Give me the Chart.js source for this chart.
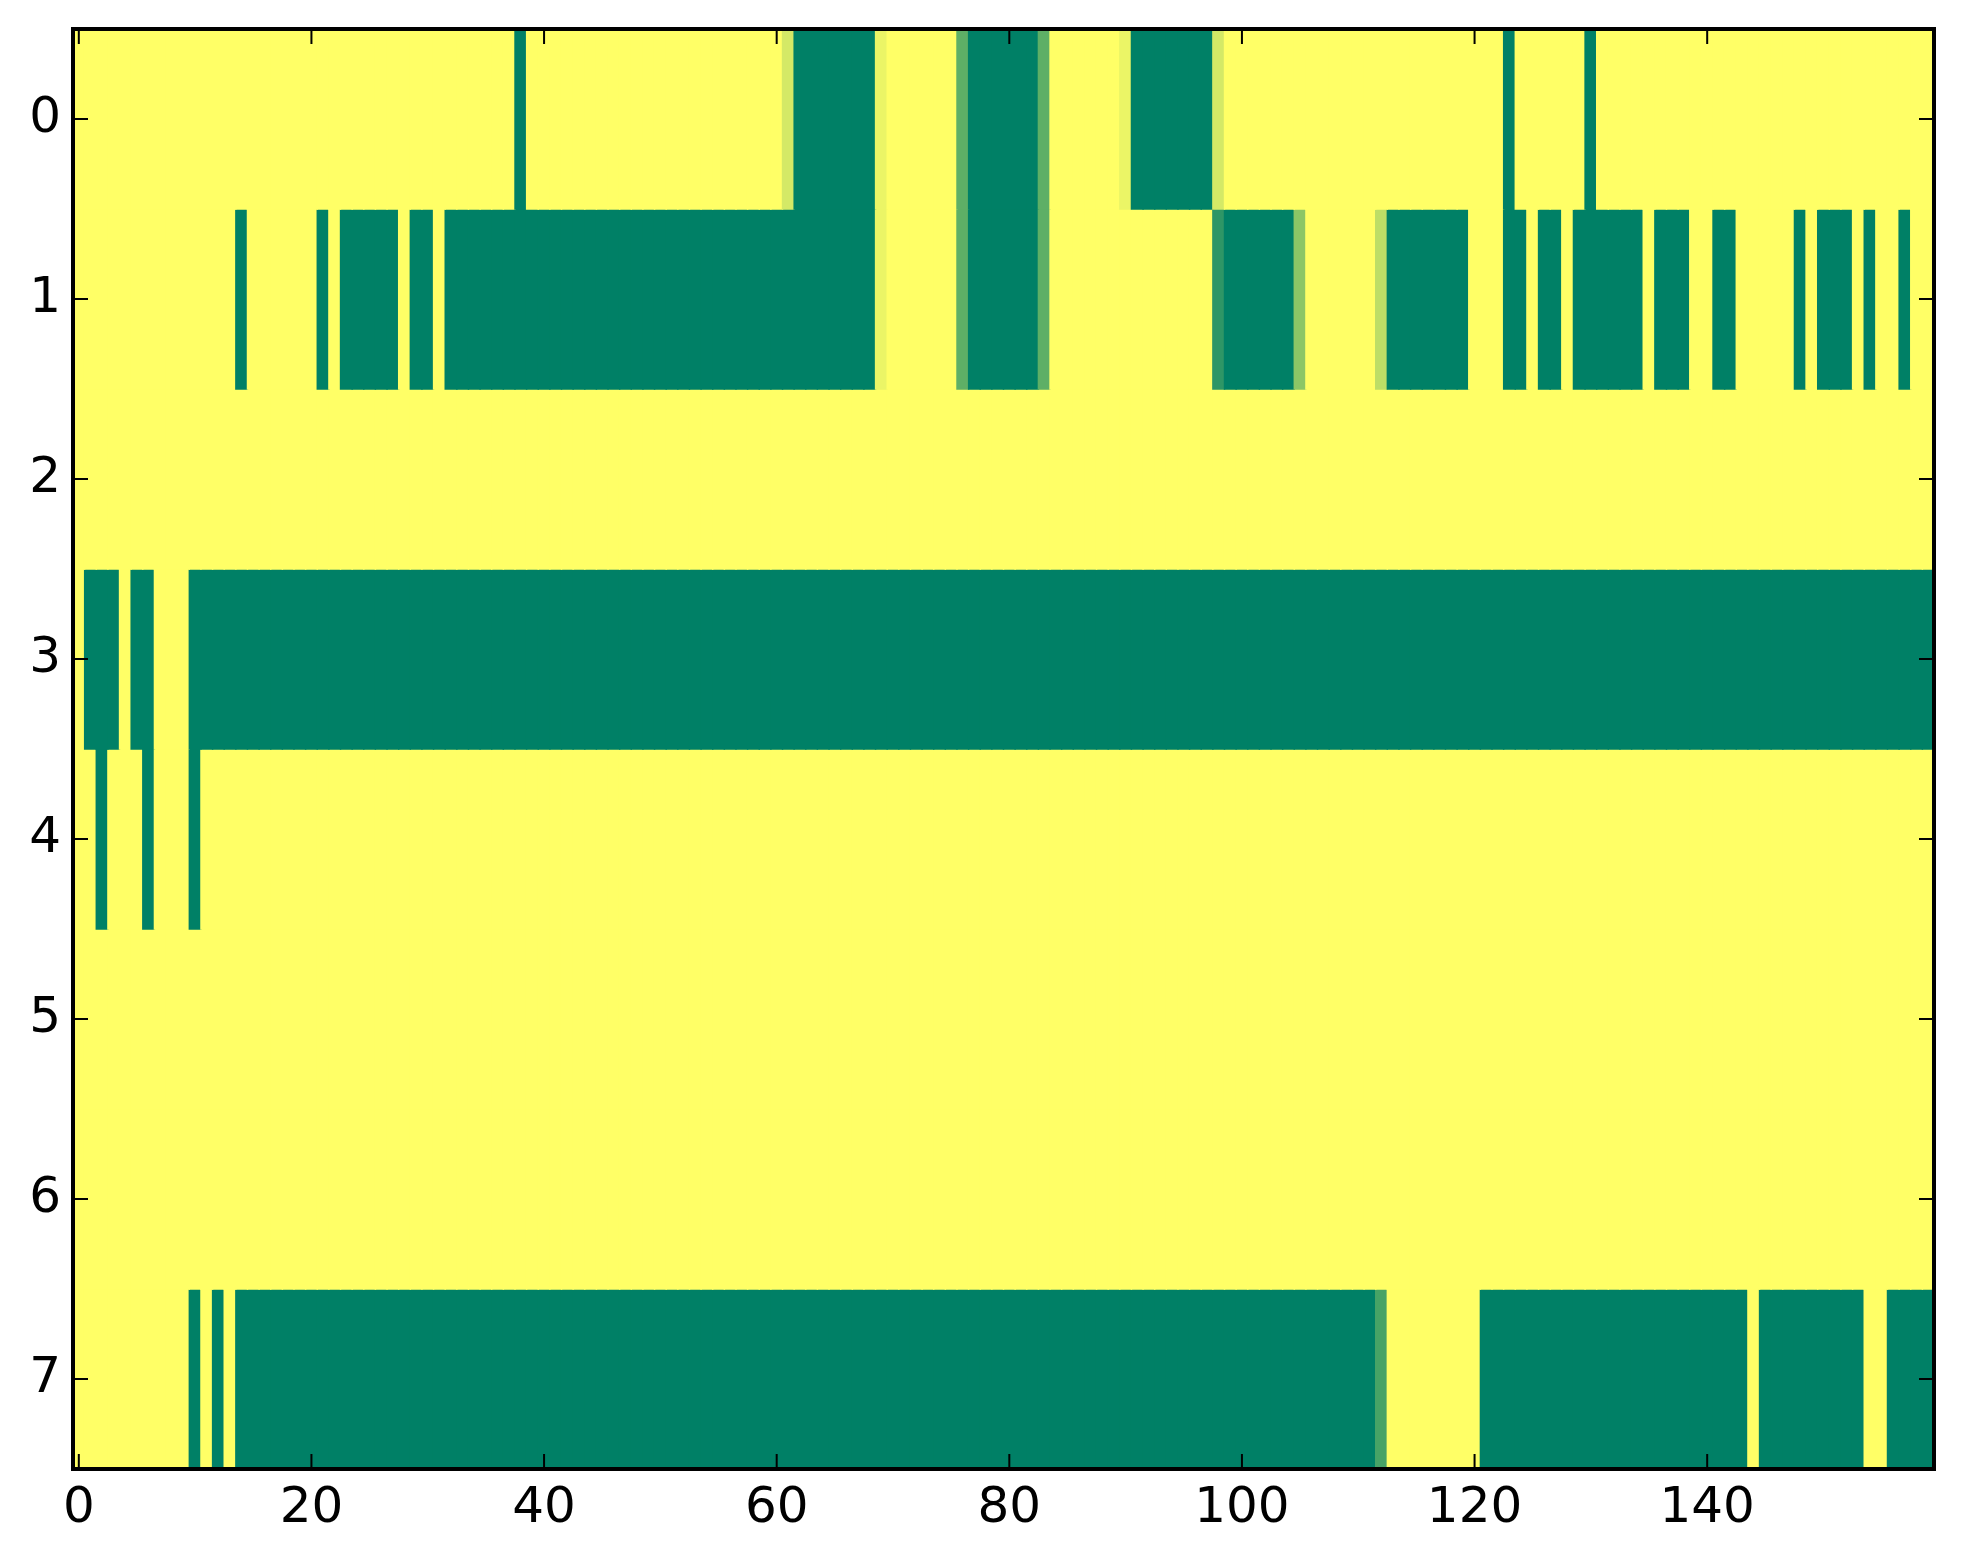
<!DOCTYPE html>
<html>
<head>
<meta charset="utf-8">
<title>heatmap</title>
<script src="https://cdn.jsdelivr.net/npm/chart.js@4.4.1/dist/chart.umd.min.js"></script>
<style>
  html, body { margin: 0; padding: 0; background: #fff; }
  canvas { display: block; }
</style>
</head>
<body>
<canvas id="mapa" width="1963" height="1564"></canvas>
<script>
// columns 0..159, rows 0..7 (values 0 = green, 1 = yellow)
const columns = Array.from({ length: 160 }, (_, i) => i);
const xTicks = [0, 20, 40, 60, 80, 100, 120, 140];
const yTicks = [0, 1, 2, 3, 4, 5, 6, 7];

const row0 = [
  1,1,1,1,1,1,1,1,1,1,1,1,1,1,1,1,1,1,1,1,
  1,1,1,1,1,1,1,1,1,1,1,1,1,1,1,1,1,1,0,1,
  1,1,1,1,1,1,1,1,1,1,1,1,1,1,1,1,1,1,1,1,
  1,0.83,0,0,0,0,0,0,0,0.92,1,1,1,1,1,1,0.37,0,0,0,
  0,0,0,0.37,1,1,1,1,1,1,0.92,0,0,0,0,0,0,0,0.83,1,
  1,1,1,1,1,1,1,1,1,1,1,1,1,1,1,1,1,1,1,1,
  1,1,1,0,1,1,1,1,1,1,0,1,1,1,1,1,1,1,1,1,
  1,1,1,1,1,1,1,1,1,1,1,1,1,1,1,1,1,1,1,1
];
const row1 = [
  1,1,1,1,1,1,1,1,1,1,1,1,1,1,0,1,1,1,1,1,
  1,0,1,0,0,0,0,0,1,0,0,1,0,0,0,0,0,0,0,0,
  0,0,0,0,0,0,0,0,0,0,0,0,0,0,0,0,0,0,0,0,
  0,0,0,0,0,0,0,0,0,0.92,1,1,1,1,1,1,0.37,0,0,0,
  0,0,0,0.37,1,1,1,1,1,1,1,1,1,1,1,1,1,1,0.18,0,
  0,0,0,0,0,0.55,1,1,1,1,1,1,0.74,0,0,0,0,0,0,0,
  1,1,1,0,0,1,0,0,1,0,0,0,0,0,0,1,0,0,0,1,
  1,0,0,1,1,1,1,1,0,1,0,0,0,1,0,1,1,0,1,1
];
const row2 = [
  1,1,1,1,1,1,1,1,1,1,1,1,1,1,1,1,1,1,1,1,
  1,1,1,1,1,1,1,1,1,1,1,1,1,1,1,1,1,1,1,1,
  1,1,1,1,1,1,1,1,1,1,1,1,1,1,1,1,1,1,1,1,
  1,1,1,1,1,1,1,1,1,1,1,1,1,1,1,1,1,1,1,1,
  1,1,1,1,1,1,1,1,1,1,1,1,1,1,1,1,1,1,1,1,
  1,1,1,1,1,1,1,1,1,1,1,1,1,1,1,1,1,1,1,1,
  1,1,1,1,1,1,1,1,1,1,1,1,1,1,1,1,1,1,1,1,
  1,1,1,1,1,1,1,1,1,1,1,1,1,1,1,1,1,1,1,1
];
const row3 = [
  1,0,0,0,1,0,0,1,1,1,0,0,0,0,0,0,0,0,0,0,
  0,0,0,0,0,0,0,0,0,0,0,0,0,0,0,0,0,0,0,0,
  0,0,0,0,0,0,0,0,0,0,0,0,0,0,0,0,0,0,0,0,
  0,0,0,0,0,0,0,0,0,0,0,0,0,0,0,0,0,0,0,0,
  0,0,0,0,0,0,0,0,0,0,0,0,0,0,0,0,0,0,0,0,
  0,0,0,0,0,0,0,0,0,0,0,0,0,0,0,0,0,0,0,0,
  0,0,0,0,0,0,0,0,0,0,0,0,0,0,0,0,0,0,0,0,
  0,0,0,0,0,0,0,0,0,0,0,0,0,0,0,0,0,0,0,0
];
const row4 = [
  1,1,0,1,1,1,0,1,1,1,0,1,1,1,1,1,1,1,1,1,
  1,1,1,1,1,1,1,1,1,1,1,1,1,1,1,1,1,1,1,1,
  1,1,1,1,1,1,1,1,1,1,1,1,1,1,1,1,1,1,1,1,
  1,1,1,1,1,1,1,1,1,1,1,1,1,1,1,1,1,1,1,1,
  1,1,1,1,1,1,1,1,1,1,1,1,1,1,1,1,1,1,1,1,
  1,1,1,1,1,1,1,1,1,1,1,1,1,1,1,1,1,1,1,1,
  1,1,1,1,1,1,1,1,1,1,1,1,1,1,1,1,1,1,1,1,
  1,1,1,1,1,1,1,1,1,1,1,1,1,1,1,1,1,1,1,1
];
const row5 = [
  1,1,1,1,1,1,1,1,1,1,1,1,1,1,1,1,1,1,1,1,
  1,1,1,1,1,1,1,1,1,1,1,1,1,1,1,1,1,1,1,1,
  1,1,1,1,1,1,1,1,1,1,1,1,1,1,1,1,1,1,1,1,
  1,1,1,1,1,1,1,1,1,1,1,1,1,1,1,1,1,1,1,1,
  1,1,1,1,1,1,1,1,1,1,1,1,1,1,1,1,1,1,1,1,
  1,1,1,1,1,1,1,1,1,1,1,1,1,1,1,1,1,1,1,1,
  1,1,1,1,1,1,1,1,1,1,1,1,1,1,1,1,1,1,1,1,
  1,1,1,1,1,1,1,1,1,1,1,1,1,1,1,1,1,1,1,1
];
const row6 = [
  1,1,1,1,1,1,1,1,1,1,1,1,1,1,1,1,1,1,1,1,
  1,1,1,1,1,1,1,1,1,1,1,1,1,1,1,1,1,1,1,1,
  1,1,1,1,1,1,1,1,1,1,1,1,1,1,1,1,1,1,1,1,
  1,1,1,1,1,1,1,1,1,1,1,1,1,1,1,1,1,1,1,1,
  1,1,1,1,1,1,1,1,1,1,1,1,1,1,1,1,1,1,1,1,
  1,1,1,1,1,1,1,1,1,1,1,1,1,1,1,1,1,1,1,1,
  1,1,1,1,1,1,1,1,1,1,1,1,1,1,1,1,1,1,1,1,
  1,1,1,1,1,1,1,1,1,1,1,1,1,1,1,1,1,1,1,1
];
const row7 = [
  1,1,1,1,1,1,1,1,1,1,0,1,0,1,0,0,0,0,0,0,
  0,0,0,0,0,0,0,0,0,0,0,0,0,0,0,0,0,0,0,0,
  0,0,0,0,0,0,0,0,0,0,0,0,0,0,0,0,0,0,0,0,
  0,0,0,0,0,0,0,0,0,0,0,0,0,0,0,0,0,0,0,0,
  0,0,0,0,0,0,0,0,0,0,0,0,0,0,0,0,0,0,0,0,
  0,0,0,0,0,0,0,0,0,0,0,0,0.28,1,1,1,1,1,1,1,
  1,0,0,0,0,0,0,0,0,0,0,0,0,0,0,0,0,0,0,0,
  0,0,0,0,1,0,0,0,0,0,0,0,0,0,1,1,0,0,0,0
];

const rows = [row0, row1, row2, row3, row4, row5, row6, row7];

// matplotlib "summer" colormap
function summer(v) {
  const r = Math.round(v * 255);
  const g = Math.round((0.5 + 0.5 * v) * 255);
  return 'rgb(' + r + ',' + g + ',102)';
}

// inward ticks on all four sides + black frame, like the classic style
const frameTicks = {
  id: 'frameTicks',
  afterDraw(chart) {
    const { ctx, chartArea: a, scales: { x, y } } = chart;
    const len = 15;
    ctx.save();
    ctx.strokeStyle = '#000';
    ctx.lineWidth = 2;
    ctx.beginPath();
    xTicks.forEach(function (t) {
      const px = x.getPixelForValue(t);
      ctx.moveTo(px, a.bottom); ctx.lineTo(px, a.bottom - len);
      ctx.moveTo(px, a.top); ctx.lineTo(px, a.top + len);
    });
    yTicks.forEach(function (t) {
      const py = y.getPixelForValue(t);
      ctx.moveTo(a.left, py); ctx.lineTo(a.left + len, py);
      ctx.moveTo(a.right, py); ctx.lineTo(a.right - len, py);
    });
    ctx.stroke();
    ctx.lineWidth = 4;
    ctx.strokeRect(a.left, a.top, a.right - a.left, a.bottom - a.top);
    ctx.restore();
  }
};

Chart.defaults.font.family = 'DejaVu Sans';

const ctx = document.getElementById('mapa').getContext('2d');
new Chart(ctx, {
  type: 'bar',
  data: {
    labels: columns,
    datasets: rows.map(function (vals, r) {
      return {
        label: 'row ' + r,
        data: columns.map(function () { return [r - 0.5, r + 0.5]; }),
        backgroundColor: vals.map(summer),
        borderWidth: 0,
        inflateAmount: 0.7,
        grouped: false,
        categoryPercentage: 1,
        barPercentage: 1
      };
    })
  },
  options: {
    responsive: false,
    devicePixelRatio: 1,
    animation: false,
    layout: { padding: { left: 0, top: 29, right: 29, bottom: 0 } },
    plugins: {
      legend: { display: false },
      tooltip: { enabled: false }
    },
    scales: {
      x: {
        type: 'category',
        offset: true,
        grid: { display: false, drawTicks: false },
        border: { display: false },
        afterFit: function (scale) {
          scale.height = 95;
          scale.paddingLeft = 0;
          scale.paddingRight = 0;
        },
        ticks: {
          autoSkip: false,
          maxRotation: 0,
          padding: 10,
          color: '#000',
          font: { size: 50 },
          callback: function (value) {
            return xTicks.includes(value) ? String(columns[value]) : null;
          }
        }
      },
      y: {
        type: 'linear',
        reverse: true,
        min: -0.5,
        max: 7.5,
        grid: { display: false, drawTicks: false },
        border: { display: false },
        afterFit: function (scale) {
          scale.width = 73;
          scale.paddingTop = 0;
          scale.paddingBottom = 0;
        },
        afterBuildTicks: function (axis) {
          axis.ticks = yTicks.map(function (v) { return { value: v }; });
        },
        ticks: {
          padding: 12,
          color: '#000',
          font: { size: 50 },
          callback: function (v) { return String(v); }
        }
      }
    }
  },
  plugins: [frameTicks]
});
</script>
</body>
</html>
